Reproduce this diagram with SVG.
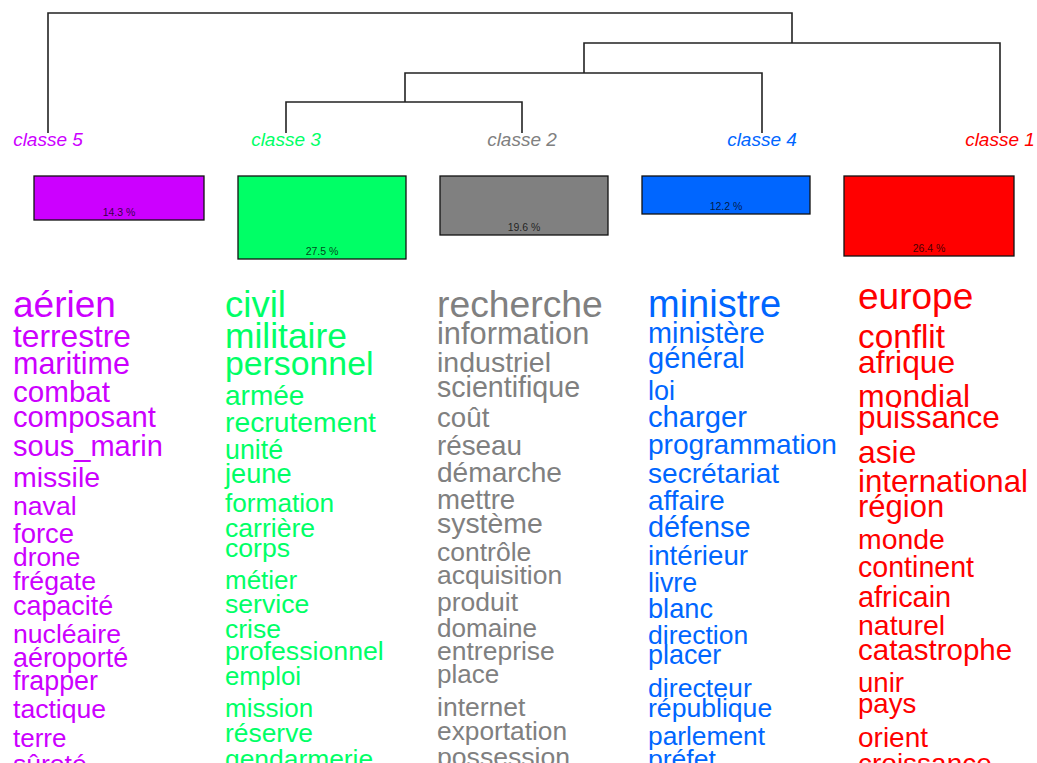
<svg xmlns="http://www.w3.org/2000/svg" width="1037" height="763" viewBox="0 0 1037 763">
<style>
text{font-family:"Liberation Sans",Arial,sans-serif}
.lbl{font-size:19px;font-style:italic;text-anchor:middle}
.pct{font-size:10.5px;text-anchor:middle;fill:#000;fill-opacity:0.75}
.box{stroke:#111;stroke-width:1.3}
.c5{fill:#CC00FF}.c3{fill:#00FF66}.c2{fill:#808080}.c4{fill:#0066FF}.c1{fill:#FF0000}
.dendro{fill:none;stroke:#222;stroke-width:1.6}
</style>
<rect width="1037" height="763" fill="#fff"/>
<g id="connectors" class="dendro">
<path d="M48 133V13H792V43"/>
<path d="M584 73V43H1000V133"/>
<path d="M405 102V73H762V133"/>
<path d="M286 133V102H522V133"/>
</g>
<g id="classe5" class="c5">
<text class="lbl" x="48" y="146">classe  5</text>
<rect class="box" x="34" y="176" width="170" height="44"/>
<text class="pct" x="119" y="216">14.3 %</text>
<text x="13" y="317" font-size="37">aérien</text>
<text x="13" y="347" font-size="31.7">terrestre</text>
<text x="13" y="374" font-size="30.5">maritime</text>
<text x="13" y="402" font-size="29.6">combat</text>
<text x="13" y="427" font-size="29.2">composant</text>
<text x="13" y="456" font-size="29">sous_marin</text>
<text x="13" y="487" font-size="28.5">missile</text>
<text x="13" y="515" font-size="26.6">naval</text>
<text x="13" y="543" font-size="27.5">force</text>
<text x="13" y="566" font-size="26.3">drone</text>
<text x="13" y="590" font-size="26.7">frégate</text>
<text x="13" y="615" font-size="26.9">capacité</text>
<text x="13" y="643" font-size="26.6">nucléaire</text>
<text x="13" y="667" font-size="26.9">aéroporté</text>
<text x="13" y="690" font-size="26.8">frapper</text>
<text x="13" y="718" font-size="26.6">tactique</text>
<text x="13" y="747" font-size="26">terre</text>
<text x="13" y="773" font-size="26.5">sûreté</text>
</g>
<g id="classe3" class="c3">
<text class="lbl" x="286" y="146">classe  3</text>
<rect class="box" x="238" y="176" width="168" height="83"/>
<text class="pct" x="322" y="255">27.5 %</text>
<text x="225" y="317" font-size="36.6">civil</text>
<text x="225" y="348" font-size="35.4">militaire</text>
<text x="225" y="375" font-size="33.8">personnel</text>
<text x="225" y="405" font-size="28">armée</text>
<text x="225" y="432" font-size="28.3">recrutement</text>
<text x="225" y="459" font-size="26.8">unité</text>
<text x="225" y="483" font-size="27.2">jeune</text>
<text x="225" y="512" font-size="26.2">formation</text>
<text x="225" y="537" font-size="26.6">carrière</text>
<text x="225" y="557" font-size="26.6">corps</text>
<text x="225" y="589" font-size="26">métier</text>
<text x="225" y="613" font-size="26.6">service</text>
<text x="225" y="638" font-size="26.5">crise</text>
<text x="225" y="660" font-size="26.7">professionnel</text>
<text x="225" y="685" font-size="25.8">emploi</text>
<text x="225" y="717" font-size="26">mission</text>
<text x="225" y="742" font-size="26.4">réserve</text>
<text x="225" y="768" font-size="26.4">gendarmerie</text>
</g>
<g id="classe2" class="c2">
<text class="lbl" x="522" y="146">classe  2</text>
<rect class="box" x="440" y="176" width="168" height="59"/>
<text class="pct" x="524" y="231">19.6 %</text>
<text x="437" y="317" font-size="37.3">recherche</text>
<text x="437" y="344" font-size="30.8">information</text>
<text x="437" y="372" font-size="28.5">industriel</text>
<text x="437" y="397" font-size="28.6">scientifique</text>
<text x="437" y="427" font-size="27.7">coût</text>
<text x="437" y="455" font-size="27.8">réseau</text>
<text x="437" y="482" font-size="28.1">démarche</text>
<text x="437" y="509" font-size="27.6">mettre</text>
<text x="437" y="533" font-size="28.4">système</text>
<text x="437" y="561" font-size="26.5">contrôle</text>
<text x="437" y="584" font-size="26.5">acquisition</text>
<text x="437" y="611" font-size="26.5">produit</text>
<text x="437" y="637" font-size="26.1">domaine</text>
<text x="437" y="660" font-size="26.5">entreprise</text>
<text x="437" y="683" font-size="26">place</text>
<text x="437" y="716" font-size="26.5">internet</text>
<text x="437" y="740" font-size="26.3">exportation</text>
<text x="437" y="766" font-size="26.6">possession</text>
</g>
<g id="classe4" class="c4">
<text class="lbl" x="762" y="146">classe  4</text>
<rect class="box" x="642" y="176" width="168" height="38"/>
<text class="pct" x="726" y="210">12.2 %</text>
<text x="648" y="317" font-size="38">ministre</text>
<text x="648" y="343" font-size="28.8">ministère</text>
<text x="648" y="368" font-size="29">général</text>
<text x="648" y="400" font-size="27">loi</text>
<text x="648" y="427" font-size="29.2">charger</text>
<text x="648" y="454" font-size="28.1">programmation</text>
<text x="648" y="483" font-size="28.1">secrétariat</text>
<text x="648" y="510" font-size="27.8">affaire</text>
<text x="648" y="537" font-size="28.8">défense</text>
<text x="648" y="565" font-size="27.7">intérieur</text>
<text x="648" y="592" font-size="26.8">livre</text>
<text x="648" y="618" font-size="27.2">blanc</text>
<text x="648" y="644" font-size="26.5">direction</text>
<text x="648" y="664" font-size="26.9">placer</text>
<text x="648" y="697" font-size="26.7">directeur</text>
<text x="648" y="717" font-size="26.6">république</text>
<text x="648" y="745" font-size="26.3">parlement</text>
<text x="648" y="768" font-size="26.5">préfet</text>
</g>
<g id="classe1" class="c1">
<text class="lbl" x="1000" y="146">classe  1</text>
<rect class="box" x="844" y="176" width="170" height="80"/>
<text class="pct" x="929" y="252">26.4 %</text>
<text x="858" y="309" font-size="37">europe</text>
<text x="858" y="348" font-size="33.3">conflit</text>
<text x="858" y="373" font-size="31.8">afrique</text>
<text x="858" y="407" font-size="32">mondial</text>
<text x="858" y="428" font-size="31.5">puissance</text>
<text x="858" y="463" font-size="31.8">asie</text>
<text x="858" y="492" font-size="31.2">international</text>
<text x="858" y="517" font-size="31">région</text>
<text x="858" y="549" font-size="28.4">monde</text>
<text x="858" y="577" font-size="28.6">continent</text>
<text x="858" y="607" font-size="28.9">africain</text>
<text x="858" y="635" font-size="28.5">naturel</text>
<text x="858" y="660" font-size="29.5">catastrophe</text>
<text x="858" y="692" font-size="27.6">unir</text>
<text x="858" y="713" font-size="27.6">pays</text>
<text x="858" y="747" font-size="28">orient</text>
<text x="858" y="773" font-size="28">croissance</text>
</g>
</svg>
